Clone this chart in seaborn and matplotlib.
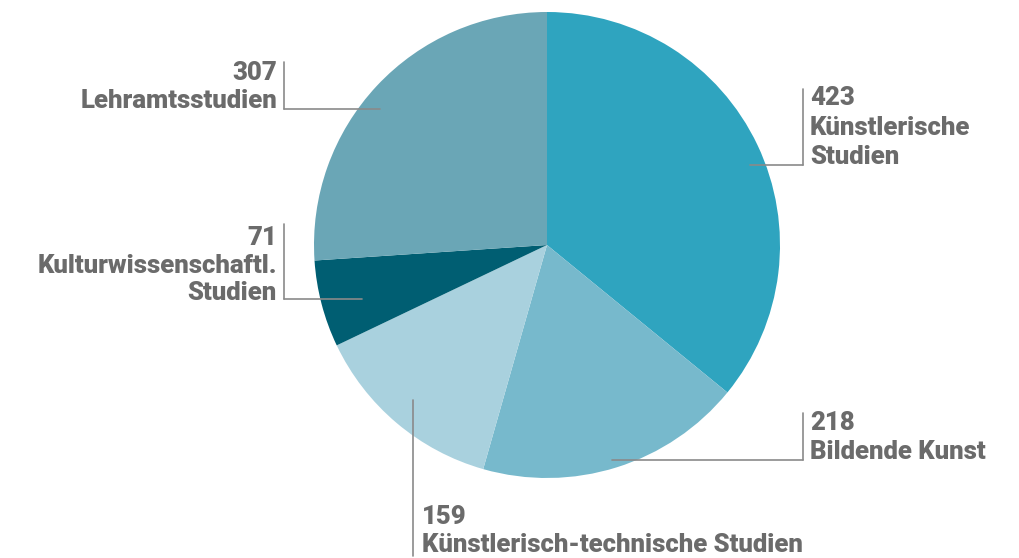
import matplotlib
matplotlib.use("Agg")
import matplotlib.pyplot as plt
import seaborn as sns

sns.set_theme(style="white")

# --- data ---
categories = ["Künstlerische\nStudien", "Bildende Kunst", "Künstlerisch-technische Studien",
              "Kulturwissenschaftl.\nStudien", "Lehramtsstudien"]
values = [423, 218, 159, 71, 307]
colors = ["#2fa4bf", "#77b9cc", "#a9d1de", "#005e72", "#6aa6b6"]

plt.rcParams["font.family"] = ["Roboto", "DejaVu Sans"]

W, H = 1020, 558
fig = plt.figure(figsize=(W / 100, H / 100), dpi=100)
ax = fig.add_axes([0, 0, 1, 1])

cx, cy, r = 547, H - 245, 233
ax.pie(values, colors=colors, startangle=90, counterclock=False,
       center=(cx, cy), radius=r, frame=True,
       wedgeprops=dict(linewidth=0))
ax.set_xlim(0, W)
ax.set_ylim(0, H)
ax.set_aspect("equal")
ax.axis("off")

txt_color = "#6b6b6b"
line_color = "#8a8a8a"
fs = 18.5

def Y(y):
    return H - y

# label layouts in pixel coords
labels = [
    dict(vx=803, vt=89, vb=165, hx=750, hy=165, tx=810, ty=[98, 128, 157], ha="left"),
    dict(vx=803, vt=413, vb=460, hx=612, hy=460, tx=810, ty=[423, 452], ha="left"),
    dict(vx=413, vt=400, vb=556, hx=None, hy=None, tx=422, ty=[517, 545], ha="left"),
    dict(vx=284, vt=224, vb=299, hx=362, hy=299, tx=277, ty=[238, 266, 293], ha="right"),
    dict(vx=284, vt=62, vb=109, hx=380, hy=109, tx=277, ty=[73, 101], ha="right"),
]

for cat, val, lab in zip(categories, values, labels):
    ax.plot([lab["vx"], lab["vx"]], [Y(lab["vt"]), Y(lab["vb"])], color=line_color, lw=1.2)
    if lab["hx"] is not None:
        ax.plot([lab["vx"], lab["hx"]], [Y(lab["hy"]), Y(lab["hy"])], color=line_color, lw=1.2)
    lines = [str(val)] + cat.split("\n")
    for line, ty in zip(lines, lab["ty"]):
        ax.text(lab["tx"], Y(ty), line, ha=lab["ha"], va="center", fontsize=fs,
                fontweight="heavy", color=txt_color)

fig.savefig("out.png", dpi=100, facecolor="white")
